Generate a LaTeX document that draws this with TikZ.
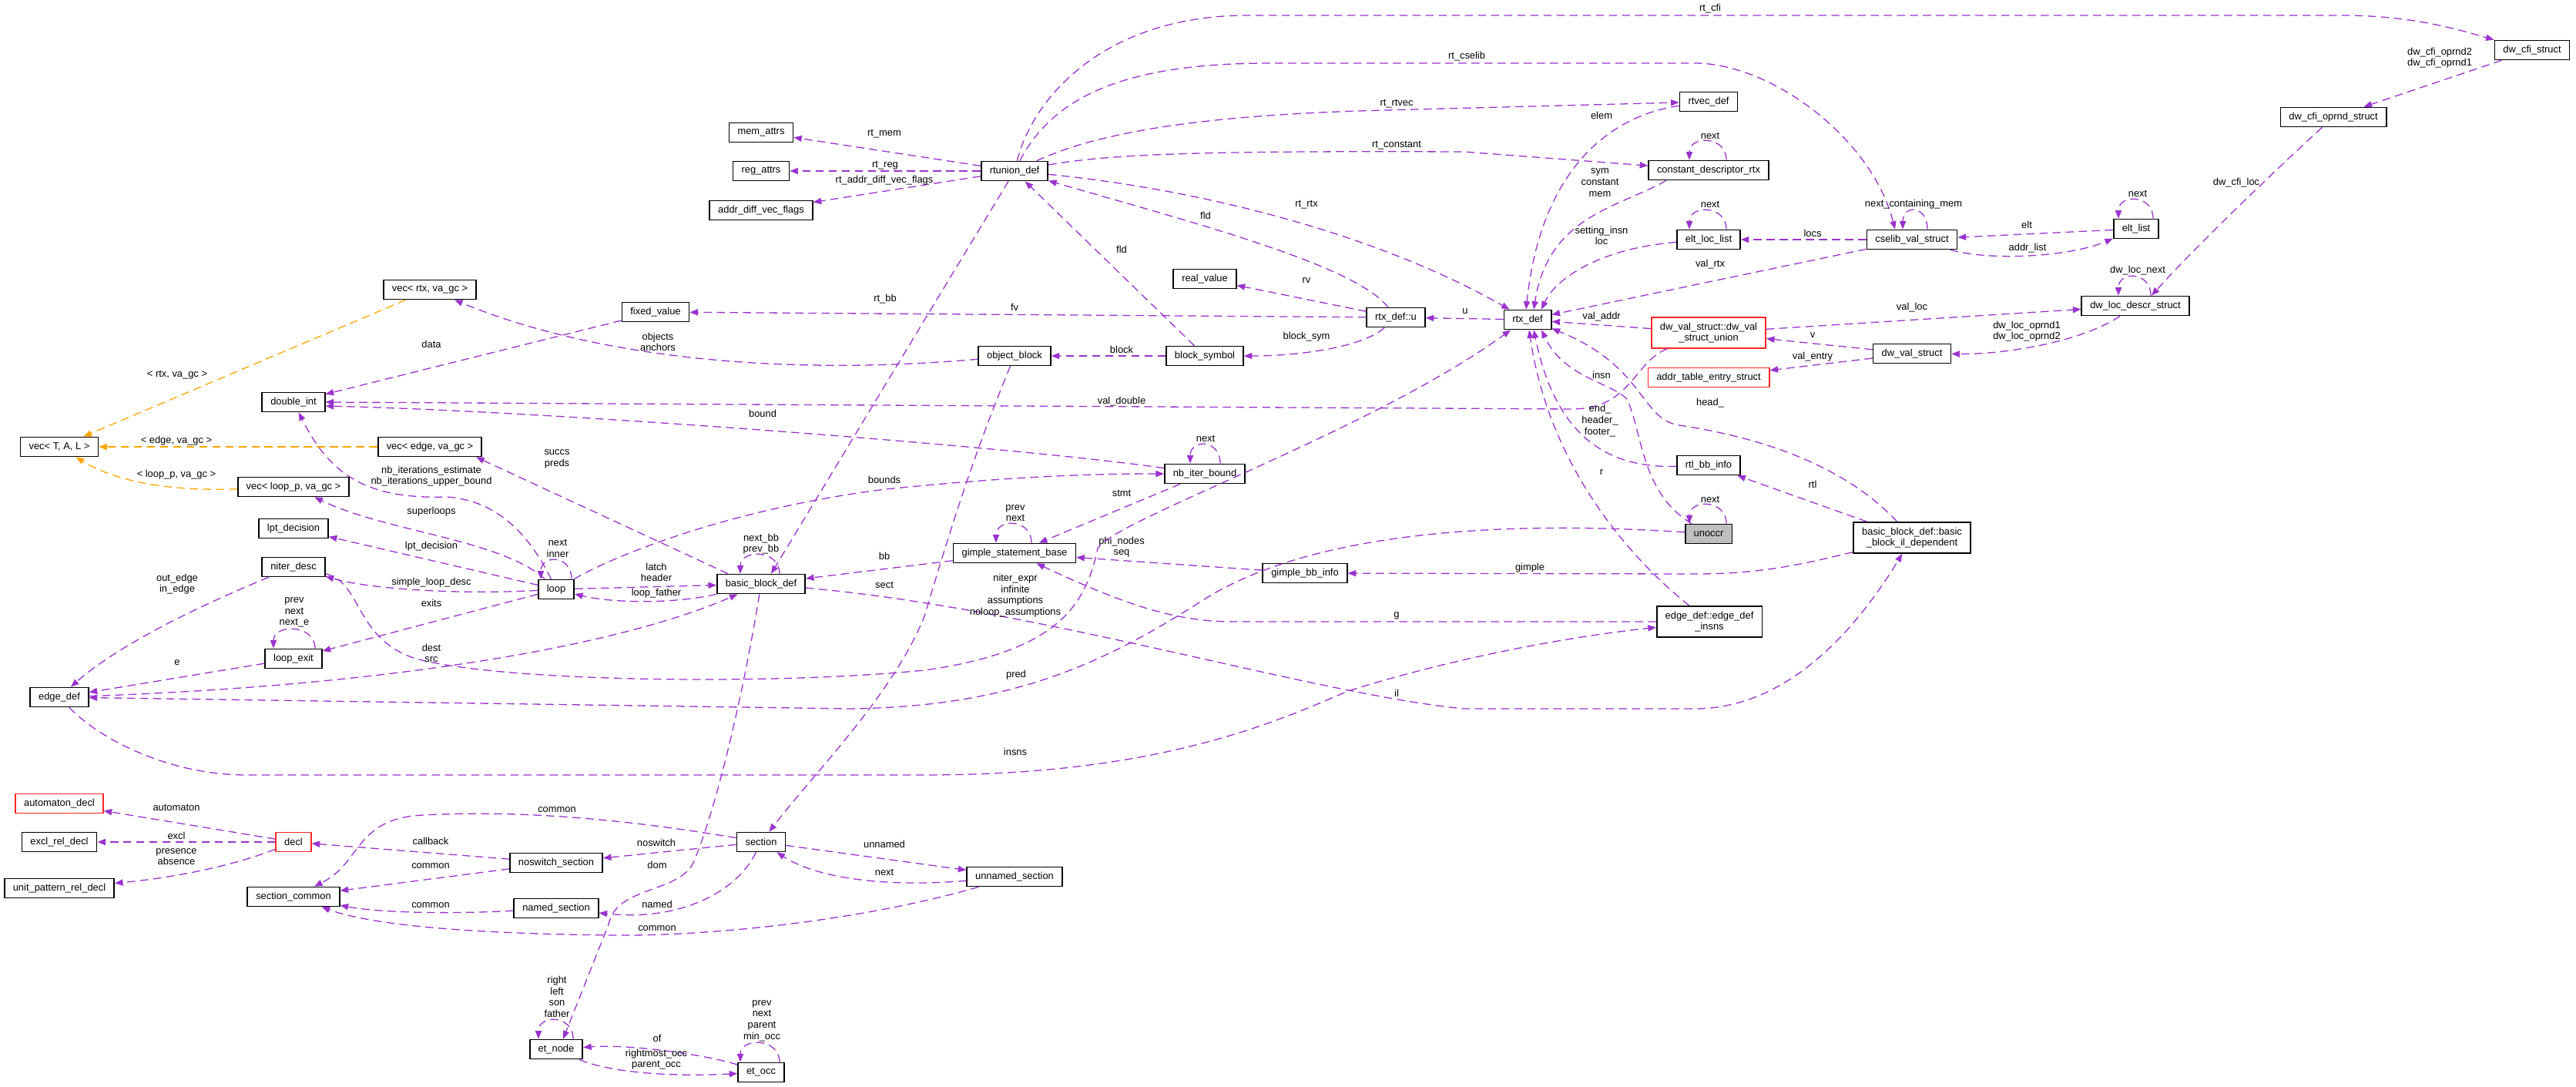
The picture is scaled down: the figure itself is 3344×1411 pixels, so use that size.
\documentclass[tikz,border=0pt]{standalone}
\usepackage{fontspec}
\setmainfont{Liberation Sans}
\usetikzlibrary{arrows.meta,calc}
\definecolor{orchid}{HTML}{9A32CD}
\definecolor{tplorange}{HTML}{FFA500}

\begin{document}
\begin{tikzpicture}[x=0.03cm,y=-0.03cm,font=\fontsize{11}{12.5}\selectfont,
  cls/.style={draw=black,line width=1.4pt,fill=white,inner xsep=0.33cm,inner ysep=0pt,minimum height=0.75cm,align=center},
  redcls/.style={cls,draw=red!85!white},
  curcls/.style={cls,fill=black!25},
  lbl/.style={inner sep=0pt,align=center},
  rel/.style={draw=orchid,line width=1.1pt,dash pattern=on 9pt off 5.5pt,-{Triangle[length=9pt,width=7pt]}},
  tpl/.style={rel,draw=tplorange}]
\useasboundingbox (0,0) rectangle (3344,1411);
\node[cls] (vecTAL) at (77,580) {vec< T, A, L >};\node[cls] (vecrtx) at (558,376) {vec< rtx, va\_gc >};
\node[cls] (vecedge) at (558,580) {vec< edge, va\_gc >};\node[cls] (vecloop) at (381,632) {vec< loop\_p, va\_gc >};
\node[cls] (fixedval) at (851,405) {fixed\_value};\node[cls] (dblint) at (381,522) {double\_int};
\node[cls] (lptdec) at (381,686) {lpt\_decision};\node[cls] (niterdesc) at (381,736) {niter\_desc};
\node[cls] (loopexit) at (381,855) {loop\_exit};\node[cls] (edgedef) at (77,905) {edge\_def};
\node[cls] (loopn) at (722,765) {loop};
\node[cls] (memattrs) at (988,172) {mem\_attrs};\node[cls] (regattrs) at (988,222) {reg\_attrs};
\node[cls] (addrdiff) at (988,273) {addr\_diff\_vec\_flags};\node[cls] (rtunion) at (1317,222) {rtunion\_def};
\node[cls] (realval) at (1564,362) {real\_value};\node[cls] (objblock) at (1317,462) {object\_block};
\node[cls] (blocksym) at (1564,462) {block\_symbol};\node[cls] (nbiter) at (1564,615) {nb\_iter\_bound};
\node[cls] (gimple) at (1317,718) {gimple\_statement\_base};\node[cls] (bbdef) at (988,758) {basic\_block\_def};
\node[cls] (gimplebb) at (1694,744) {gimple\_bb\_info};
\node[cls] (rtvec) at (2218,132) {rtvec\_def};\node[cls] (constdesc) at (2218,221) {constant\_descriptor\_rtx};
\node[cls] (eltloc) at (2218,311) {elt\_loc\_list};\node[cls] (cselib) at (2482,311) {cselib\_val\_struct};
\node[cls] (rtxdef) at (1983,415) {rtx\_def};\node[cls] (rtxu) at (1812,412) {rtx\_def::u};
\node[redcls,minimum height=1.2cm] (dwunion) at (2218,432) {dw\_val\_struct::dw\_val\\\_struct\_union};
\node[redcls] (addrtab) at (2218,490) {addr\_table\_entry\_struct};\node[cls] (dwval) at (2482,459) {dw\_val\_struct};
\node[cls] (rtlbb) at (2218,604) {rtl\_bb\_info};\node[curcls] (unoccr) at (2218,693) {unoccr};
\node[cls,minimum height=1.2cm] (bbil) at (2482,698) {basic\_block\_def::basic\\\_block\_il\_dependent};
\node[cls,minimum height=1.2cm] (edgeins) at (2219,807) {edge\_def::edge\_def\\\_insns};
\node[cls] (dwcfi) at (3287,65) {dw\_cfi\_struct};\node[cls] (dwcfiop) at (3029,152) {dw\_cfi\_oprnd\_struct};
\node[cls] (eltlist) at (2773,297) {elt\_list};\node[cls] (dwloc) at (2772,397) {dw\_loc\_descr\_struct};
\node[redcls] (autdecl) at (77,1043) {automaton\_decl};\node[cls] (excl) at (77,1093) {excl\_rel\_decl};
\node[cls] (unitpat) at (77,1153) {unit\_pattern\_rel\_decl};\node[redcls] (decl) at (381,1093) {decl};
\node[cls] (seccommon) at (381,1164) {section\_common};\node[cls] (noswitch) at (722,1120) {noswitch\_section};
\node[cls] (named) at (722,1179) {named\_section};\node[cls] (section) at (988,1093) {section};
\node[cls] (unnamed) at (1317,1138) {unnamed\_section};
\node[cls] (etnode) at (722,1362) {et\_node};\node[cls] (etocc) at (988,1392) {et\_occ};
% templates
\draw[tpl] (vecrtx) -- (vecTAL);\node[lbl] (lb-rtx) at (230,487) {< rtx, va\_gc >};
\draw[tpl] (vecedge) -- (vecTAL);\node[lbl] (lb-edge) at (229,572) {< edge, va\_gc >};
\draw[tpl] (vecloop) .. controls (220,638) and (150,625) .. (vecTAL);\node[lbl] (lb-loopp) at (229,616) {< loop\_p, va\_gc >};
% rtl side
\draw[rel] (fixedval) -- (dblint);\node[lbl] (lb-data) at (560,447) {data};
\draw[rel] (objblock) .. controls (1000,490) and (760,460) .. (vecrtx);\node[lbl] (lb-obj) at (854,444) {objects\\anchors};
\draw[rel] (dwunion) .. controls (2120,470) and (2118,531) .. (2040,531) -- (dblint.east);\node[lbl] (lb-vdbl) at (1456,521) {val\_double};
\draw[rel] (nbiter) .. controls (1300,578) and (700,533) .. (dblint.-7);\node[lbl] (lb-bound) at (990,537) {bound};
\draw[rel] (rtunion) -- (memattrs);\node[lbl] (lb-rtmem) at (1148,174) {rt\_mem};
\draw[rel] (rtunion) -- (regattrs);\node[lbl] (lb-rtreg) at (1149,215) {rt\_reg};
\draw[rel] (rtunion) -- (addrdiff);\node[lbl] (lb-rtadv) at (1148,234) {rt\_addr\_diff\_vec\_flags};
\draw[rel] (rtunion) -- ($(bbdef.north)+(13,0)$);\node[lbl] (lb-rtbb) at (1149,388) {rt\_bb};
\draw[rel] (rtxu) -- (fixedval);\node[lbl] (lb-fv) at (1317,399) {fv};
\draw[rel] (rtxu) .. controls (1760,345) and (1560,292) .. (rtunion);\node[lbl] (lb-fld1) at (1565,280) {fld};
\draw[rel] (blocksym) -- (rtunion);\node[lbl] (lb-fld2) at (1456,324) {fld};
\draw[rel] (rtxu) -- (realval);\node[lbl] (lb-rv) at (1696,364) {rv};
\draw[rel] (rtxu) .. controls (1770,450) and (1690,462) .. (blocksym);\node[lbl] (lb-bsym) at (1696,437) {block\_sym};
\draw[rel] (blocksym) -- (objblock);\node[lbl] (lb-block) at (1456,454) {block};
\draw[rel] (rtunion) .. controls (1550,245) and (1780,300) .. (rtxdef);\node[lbl] (lb-rtrtx) at (1696,266) {rt\_rtx};
\draw[rel] (rtunion) .. controls (1440,165) and (1600,148) .. (1800,143) -- (rtvec);\node[lbl] (lb-rtvec) at (1813,135) {rt\_rtvec};
\draw[rel] (rtunion) .. controls (1450,198) and (1600,196) .. (1900,197) -- (constdesc);\node[lbl] (lb-rtcst) at (1813,189) {rt\_constant};
\draw[rel] (rtunion) .. controls (1370,120) and (1470,82) .. (1650,82) -- (2200,82) .. controls (2300,82) and (2430,180) .. ($(cselib.north)+(-22,0)$);\node[lbl] (lb-rtcse) at (1904,73) {rt\_cselib};
\draw[rel] (rtunion) .. controls (1340,130) and (1430,20) .. (1620,20) -- (3040,20) .. controls (3130,20) and (3190,38) .. (dwcfi.north west);\node[lbl] (lb-rtcfi) at (2220,11) {rt\_cfi};
\draw[rel] (rtxdef) -- (rtxu);\node[lbl] (lb-u) at (1902,404) {u};
\draw[rel] (rtvec) .. controls (2090,150) and (2000,220) .. ($(rtxdef.north)+(-2,0)$);\node[lbl] (lb-elem) at (2079,150) {elem};
\draw[rel] ($(constdesc.south)+(-55,0)$) .. controls (2100,270) and (2010,280) .. ($(rtxdef.north)+(8,0)$);\node[lbl] (lb-sym) at (2077,237) {sym\\constant\\mem};
\draw[rel] (eltloc) .. controls (2080,322) and (2020,360) .. ($(rtxdef.north)+(18,0)$);\node[lbl] (lb-setins) at (2079,306) {setting\_insn\\loc};
\draw[rel] (cselib) -- (eltloc);\node[lbl] (lb-locs) at (2353,303) {locs};
\draw[rel] (cselib) -- (rtxdef);\node[lbl] (lb-valrtx) at (2220,343) {val\_rtx};
\draw[rel] (eltlist) -- (cselib);\node[lbl] (lb-elt) at (2631,292) {elt};
\draw[rel] (cselib) .. controls (2590,340) and (2690,332) .. (eltlist);\node[lbl] (lb-addrl) at (2632,322) {addr\_list};
\draw[rel] (dwcfi) -- (dwcfiop);\node[lbl] (lb-cfiop) at (3167,75) {dw\_cfi\_oprnd2\\dw\_cfi\_oprnd1};
\draw[rel] (dwcfiop) .. controls (2960,215) and (2850,320) .. ($(dwloc.north)+(21,0)$);\node[lbl] (lb-cfiloc) at (2903,237) {dw\_cfi\_loc};
\draw[rel] (dwloc) .. controls (2700,445) and (2600,460) .. (dwval);\node[lbl] (lb-locop) at (2631,430) {dw\_loc\_oprnd1\\dw\_loc\_oprnd2};
\draw[rel] (dwunion) -- (dwloc);\node[lbl] (lb-valloc) at (2482,399) {val\_loc};
\draw[rel] (dwval) -- (dwunion);\node[lbl] (lb-v) at (2353,435) {v};
\draw[rel] (dwval) -- (addrtab);\node[lbl] (lb-ventry) at (2353,463) {val\_entry};
\draw[rel] (dwunion) -- (rtxdef);\node[lbl] (lb-vaddr) at (2079,411) {val\_addr};
\draw[rel] (rtlbb) .. controls (2090,608) and (2020,570) .. ($(rtxdef.south)+(8,0)$);\node[lbl] (lb-endh) at (2077,546) {end\_\\header\_\\footer\_};
\draw[rel] (unoccr) .. controls (2130,640) and (2132,560) .. (2112,518) .. controls (2090,496) and (2030,490) .. ($(rtxdef.south)+(18,0)$);\node[lbl] (lb-insn) at (2079,487) {insn};
\draw[rel] (bbil) .. controls (2400,610) and (2300,570) .. (2180,552) .. controls (2130,545) and (2135,475) .. (rtxdef.-20);\node[lbl] (lb-head) at (2220,523) {head\_};
\draw[rel] (edgeins) .. controls (2110,720) and (2010,600) .. ($(rtxdef.south)+(2,0)$);\node[lbl] (lb-r) at (2079,613) {r};
\draw[rel] (bbil) -- (rtlbb);\node[lbl] (lb-rtl) at (2353,629) {rtl};
\draw[rel] (bbil) .. controls (2330,735) and (2280,745) .. (2200,745) -- (gimplebb);\node[lbl] (lb-gimple) at (1986,737) {gimple};
\draw[rel] (gimplebb) -- (gimple);\node[lbl] (lb-phi) at (1456,710) {phi\_nodes\\seq};
\draw[rel] (edgeins) -- (1600,807) .. controls (1520,807) and (1450,780) .. (gimple);\node[lbl] (lb-g) at (1813,799) {g};
\draw[rel] (bbdef) .. controls (1350,790) and (1700,900) .. (1900,920) -- (2200,920) .. controls (2330,920) and (2420,800) .. (bbil);\node[lbl] (lb-il) at (1813,900) {il};
\draw[rel] (edgedef) .. controls (130,960) and (220,1006) .. (320,1006) -- (1200,1006) .. controls (1500,1006) and (1650,940) .. (1750,897) .. controls (1900,850) and (2050,825) .. (edgeins);\node[lbl] (lb-insns) at (1318,976) {insns};
\draw[rel] (unoccr) .. controls (1950,675) and (1700,690) .. (1560,780) .. controls (1420,870) and (1300,918) .. (1100,920) -- (edgedef);\node[lbl] (lb-pred) at (1319,876) {pred};
\draw[rel] (niterdesc) .. controls (470,755) and (460,830) .. (540,855) .. controls (650,885) and (1000,890) .. (1200,870) .. controls (1380,845) and (1410,780) .. (1425,712) .. controls (1445,675) and (1780,560) .. ($(rtxdef.south)+(-22,0)$);
\node[lbl] (lb-niter) at (1318,773) {niter\_expr\\infinite\\assumptions\\noloop\_assumptions};
% blocks and loops
\draw[rel] (nbiter) -- (gimple);\node[lbl] (lb-stmt) at (1456,640) {stmt};
\draw[rel] (gimple) -- (bbdef);\node[lbl] (lb-bb) at (1148,722) {bb};
\draw[rel] (objblock) .. controls (1260,600) and (1230,700) .. (1200,800) .. controls (1160,900) and (1060,1000) .. (section);\node[lbl] (lb-sect) at (1148,759) {sect};
\draw[rel] (bbdef) .. controls (965,900) and (930,1050) .. (900,1120) .. controls (880,1160) and (800,1150) .. (790,1200) -- ($(etnode.north)+(9,0)$);\node[lbl] (lb-dom) at (853,1123) {dom};
\draw[rel] (edgedef) .. controls (500,890) and (800,840) .. (bbdef);\node[lbl] (lb-dest) at (560,848) {dest\\src};
\draw[rel] (loopexit) -- (edgedef);\node[lbl] (lb-e) at (230,860) {e};
\draw[rel] (niterdesc) .. controls (250,790) and (150,840) .. (edgedef);\node[lbl] (lb-inout) at (230,758) {out\_edge\\in\_edge};
\draw[rel] (loopn) -- (loopexit);\node[lbl] (lb-exits) at (560,783) {exits};
\draw[rel] (loopn) .. controls (600,772) and (480,765) .. (niterdesc);\node[lbl] (lb-sld) at (560,756) {simple\_loop\_desc};
\draw[rel] (loopn) -- (lptdec);\node[lbl] (lb-lpt) at (560,709) {lpt\_decision};
\draw[rel] (loopn) .. controls (650,700) and (500,690) .. (vecloop);\node[lbl] (lb-super) at (560,664) {superloops};
\draw[rel] (loopn) .. controls (690,700) and (650,650) .. (580,645) .. controls (480,648) and (430,620) .. (dblint);\node[lbl] (lb-nbit) at (560,618) {nb\_iterations\_estimate\\nb\_iterations\_upper\_bound};
\draw[rel] (loopn) .. controls (800,720) and (950,660) .. (1150,635) .. controls (1300,620) and (1400,615) .. (nbiter);\node[lbl] (lb-bounds) at (1148,623) {bounds};
\draw[rel] (loopn) -- (bbdef);\node[lbl] (lb-latch) at (852,743) {latch\\header};
\draw[rel] (bbdef) .. controls (870,785) and (790,782) .. (loopn);\node[lbl] (lb-lfather) at (852,770) {loop\_father};
\draw[rel] ($(bbdef.north west)+(15,0)$) -- ($(vecedge.south east)+(-8,0)$);\node[lbl] (lb-succ) at (723,596) {succs\\preds};
% sections
\draw[rel] (section) .. controls (850,1070) and (700,1050) .. (550,1058) .. controls (460,1062) and (470,1120) .. (seccommon);\node[lbl] (lb-com1) at (723,1051) {common};
\draw[rel] (noswitch) -- (seccommon);\node[lbl] (lb-com2) at (559,1124) {common};
\draw[rel] (noswitch) -- (decl);\node[lbl] (lb-cb) at (559,1092) {callback};
\draw[rel] (section) -- (noswitch);\node[lbl] (lb-nosw) at (852,1094) {noswitch};
\draw[rel] (named) .. controls (600,1186) and (500,1186) .. (seccommon);\node[lbl] (lb-com3) at (559,1175) {common};
\draw[rel] (section) .. controls (955,1160) and (880,1196) .. (named);\node[lbl] (lb-named) at (853,1174) {named};
\draw[rel] (unnamed) .. controls (1100,1200) and (900,1215) .. (800,1214) .. controls (600,1212) and (480,1200) .. (seccommon);\node[lbl] (lb-com4) at (853,1205) {common};
\draw[rel] (section) -- (unnamed);\node[lbl] (lb-unn) at (1148,1096) {unnamed};
\draw[rel] (unnamed) .. controls (1150,1152) and (1060,1140) .. (section);\node[lbl] (lb-snext) at (1148,1132) {next};
\draw[rel] (decl) -- (autdecl);\node[lbl] (lb-aut) at (229,1048) {automaton};
\draw[rel] (decl) -- (excl);\node[lbl] (lb-excl) at (229,1085) {excl};
\draw[rel] (decl) .. controls (300,1125) and (220,1140) .. (unitpat);\node[lbl] (lb-pres) at (229,1112) {presence\\absence};
\draw[rel] (etocc) .. controls (920,1370) and (820,1355) .. (etnode);\node[lbl] (lb-of) at (853,1348) {of};
\draw[rel] (etnode) .. controls (790,1392) and (870,1398) .. (etocc);\node[lbl] (lb-rocc) at (852,1375) {rightmost\_occ\\parent\_occ};
% self references
\draw[rel] ($(constdesc.north)+(23,0)$) .. controls +(0,-32) and +(0,-32) .. ($(constdesc.north)+(-25,0)$);\node[lbl] (lb-cdn) at (2220,176) {next};
\draw[rel] ($(eltloc.north)+(23,0)$) .. controls +(0,-32) and +(0,-32) .. ($(eltloc.north)+(-25,0)$);\node[lbl] (lb-eln) at (2220,265) {next};
\draw[rel] ($(cselib.north)+(20,0)$) .. controls +(0,-32) and +(0,-32) .. ($(cselib.north)+(-12,0)$);\node[lbl] (lb-ncm) at (2484,265) {next\_containing\_mem};
\draw[rel] ($(eltlist.north)+(22,0)$) .. controls +(0,-32) and +(0,-32) .. ($(eltlist.north)+(-23,0)$);\node[lbl] (lb-elln) at (2775,251) {next};
\draw[rel] ($(dwloc.north)+(20,0)$) .. controls +(0,-32) and +(0,-32) .. ($(dwloc.north)+(-22,0)$);\node[lbl] (lb-dln) at (2775,351) {dw\_loc\_next};
\draw[rel] ($(unoccr.north)+(23,0)$) .. controls +(0,-32) and +(0,-32) .. ($(unoccr.north)+(-25,0)$);\node[lbl] (lb-un) at (2220,648) {next};
\draw[rel] ($(nbiter.north)+(20,0)$) .. controls +(0,-32) and +(0,-32) .. ($(nbiter.north)+(-19,0)$);\node[lbl] (lb-nbn) at (1565,569) {next};
\draw[rel] ($(gimple.north)+(22,0)$) .. controls +(0,-32) and +(0,-32) .. ($(gimple.north)+(-24,0)$);\node[lbl] (lb-gpn) at (1318,666) {prev\\next};
\draw[rel] ($(bbdef.north)+(24,0)$) .. controls +(0,-32) and +(0,-32) .. ($(bbdef.north)+(-27,0)$);\node[lbl] (lb-bbn) at (988,706) {next\_bb\\prev\_bb};
\draw[rel] ($(loopn.north)+(20,0)$) .. controls +(0,-32) and +(0,-32) .. ($(loopn.north)+(-20,0)$);\node[lbl] (lb-lin) at (724,712) {next\\inner};
\draw[rel] ($(loopexit.north)+(28,0)$) .. controls +(0,-32) and +(0,-32) .. ($(loopexit.north)+(-26,0)$);\node[lbl] (lb-lxn) at (382,795) {prev\\next\\next\_e};
\draw[rel] ($(etnode.north)+(22,0)$) .. controls +(0,-32) and +(0,-32) .. ($(etnode.north)+(-23,0)$);\node[lbl] (lb-etn) at (723,1294) {right\\left\\son\\father};
\draw[rel] ($(etocc.north)+(24,0)$) .. controls +(0,-32) and +(0,-32) .. ($(etocc.north)+(-27,0)$);\node[lbl] (lb-eto) at (989,1325) {prev\\next\\parent\\min\_occ};
\end{tikzpicture}
\end{document}
